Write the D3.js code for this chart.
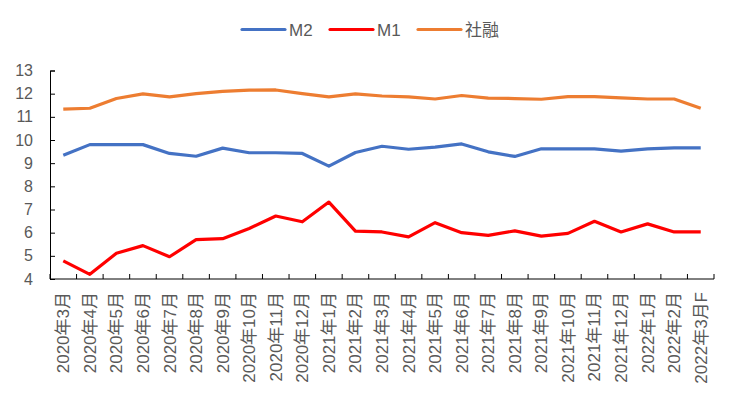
<!DOCTYPE html>
<html>
<head>
<meta charset="utf-8">
<script src="https://cdn.jsdelivr.net/npm/d3@7"></script>
<style>
body { margin: 0; background: #fff; }
svg text { font-family: "Liberation Sans", "Noto Sans CJK SC", sans-serif; fill: #595959; }
</style>
</head>
<body>
<div id="container"></div>
<script>
var MONTHS = ["2020年3月","2020年4月","2020年5月","2020年6月","2020年7月","2020年8月",
	      "2020年9月","2020年10月","2020年11月","2020年12月","2021年1月","2021年2月",
	      "2021年3月","2021年4月","2021年5月","2021年6月","2021年7月","2021年8月",
	      "2021年9月","2021年10月","2021年11月","2021年12月","2022年1月","2022年2月",
	      "2022年3月F"];

var M2 = [9.34, 9.8, 9.8, 9.8, 9.42, 9.3, 9.65, 9.45, 9.45, 9.42, 8.87, 9.46,
	  9.73, 9.6, 9.69, 9.83, 9.49, 9.29, 9.62, 9.62, 9.62, 9.52, 9.62, 9.66, 9.66];
var M1 = [4.78, 4.2, 5.11, 5.44, 4.96, 5.7, 5.74, 6.18, 6.72, 6.47, 7.32, 6.07,
	  6.03, 5.82, 6.43, 6.0, 5.88, 6.08, 5.85, 5.97, 6.49, 6.03, 6.38, 6.03, 6.03];
var TSF = [11.33, 11.37, 11.79, 11.99, 11.86, 12.0, 12.1, 12.15, 12.16, 12.0, 11.86, 11.99,
	   11.9, 11.86, 11.77, 11.92, 11.81, 11.79, 11.76, 11.87, 11.87, 11.82, 11.77, 11.77, 11.37];

var SERIES_NAMES = ["M2", "M1", "社融"];
var SERIES_COLORS = ["#4472C4", "#FF0000", "#ED7D31"];
var Y_TICKS = [4, 5, 6, 7, 8, 9, 10, 11, 12, 13];

var LEFT = 50, RIGHT = 714, TOP = 70.5, BOTTOM = 279;

var svg = d3.select("#container").append("svg")
    .attr("width", 737)
    .attr("height", 400);

var x = d3.scaleBand().domain(MONTHS).range([LEFT, RIGHT]).padding(0);
var y = d3.scaleLinear().domain([4, 13]).range([BOTTOM, TOP]);

// y axis, ticks pointing into the plot
var yAxis = svg.append("g")
    .attr("transform", "translate(" + LEFT + ",0)")
    .call(d3.axisLeft(y).tickValues(Y_TICKS).tickSize(-5).tickPadding(17));
yAxis.selectAll("text").style("font-size", "16px");
yAxis.select(".domain").attr("stroke", "#000");
yAxis.selectAll(".tick line").attr("stroke", "#000");

// x axis line and boundary ticks
var xg = svg.append("g");
xg.append("line")
    .attr("x1", LEFT).attr("x2", RIGHT)
    .attr("y1", BOTTOM).attr("y2", BOTTOM)
    .attr("stroke", "#000");

var bounds = MONTHS.map(function(m){ return x(m); }).concat([x.range()[1]]);
xg.selectAll("line.xtick")
    .data(bounds)
    .enter()
    .append("line")
    .classed("xtick", true)
    .attr("x1", function(d){ return d; })
    .attr("x2", function(d){ return d; })
    .attr("y1", BOTTOM)
    .attr("y2", BOTTOM - 5)
    .attr("stroke", "#000");

xg.selectAll("text")
    .data(MONTHS)
    .enter()
    .append("text")
    .attr("transform", function(d){
	return "translate(" + (x(d) + x.bandwidth() / 2 + 6) + "," + (BOTTOM + 13) + ") rotate(-90)";
    })
    .attr("text-anchor", "end")
    .style("font-size", "17px")
    .text(function(d){ return d; });

var line = d3.line()
    .x(function(d, i){ return x(MONTHS[i]) + x.bandwidth() / 2; })
    .y(function(d){ return y(d); });

[M2, M1, TSF].forEach(function(s, k){
    svg.append("path")
	.datum(s)
	.attr("fill", "none")
	.attr("stroke", SERIES_COLORS[k])
	.attr("stroke-width", 3.2)
	.attr("stroke-linejoin", "round")
	.attr("d", line);
});

// legend
var LEG_X = [242, 330, 418];
var legend = svg.append("g");
SERIES_NAMES.forEach(function(n, k){
    legend.append("line")
	.attr("x1", LEG_X[k]).attr("x2", LEG_X[k] + 43)
	.attr("y1", 29.5).attr("y2", 29.5)
	.attr("stroke", SERIES_COLORS[k])
	.attr("stroke-width", 3.2)
	.attr("stroke-linecap", "round");
    legend.append("text")
	.attr("x", LEG_X[k] + 47)
	.attr("y", 36)
	.style("font-size", "17px")
	.text(n);
});
</script>
</body>
</html>
